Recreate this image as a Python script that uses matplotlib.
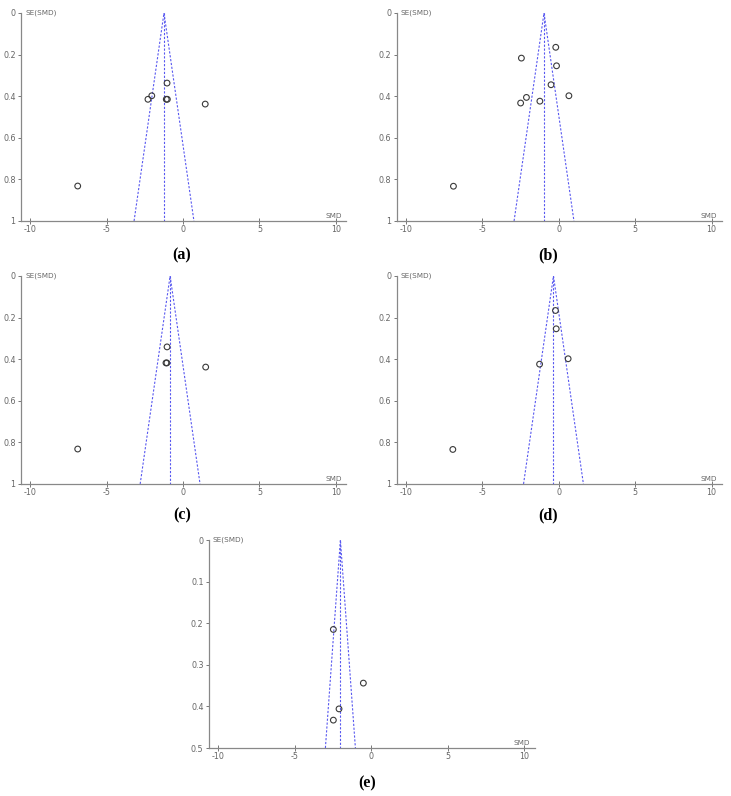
import matplotlib
matplotlib.use("Agg")
import matplotlib.pyplot as plt
import numpy as np

plt.rcParams["axes.unicode_minus"] = False

# SMD and SE(SMD) per study
a_smd = [-6.9, -2.3, -2.05, -1.05, -1.1, -1.03, 1.45]
a_se = [0.832, 0.415, 0.398, 0.337, 0.415, 0.415, 0.438]
a_pooled = -1.25

b_smd = [-6.9, -2.45, -2.12, -2.5, -1.24, -0.51, -0.2, -0.15, 0.66]
b_se = [0.833, 0.217, 0.406, 0.433, 0.424, 0.345, 0.165, 0.254, 0.398]
b_pooled = -0.97

c_smd = [-6.9, -1.05, -1.12, -1.06, 1.48]
c_se = [0.832, 0.341, 0.418, 0.418, 0.438]
c_pooled = -0.85

d_smd = [-6.94, -1.26, -0.22, -0.17, 0.61]
d_se = [0.834, 0.424, 0.166, 0.254, 0.398]
d_pooled = -0.35

e_smd = [-2.48, -0.52, -2.11, -2.48]
e_se = [0.215, 0.344, 0.406, 0.433]
e_pooled = -2.02

panel_labels = ["a", "b", "c", "d", "e"]
y_max = [1, 1, 1, 1, 0.5]

fig = plt.figure(figsize=(7.31, 7.96), dpi=100)

# left, bottom, width, height in figure fraction
boxes = [
    [0.029, 0.7224, 0.445, 0.2613],
    [0.543, 0.7224, 0.445, 0.2613],
    [0.029, 0.392, 0.445, 0.2613],
    [0.543, 0.392, 0.445, 0.2613],
    [0.286, 0.0603, 0.446, 0.2613],
]
label_pos = [(0.249, 0.679), (0.750, 0.679), (0.249, 0.353), (0.750, 0.353), (0.502, 0.016)]

data = [(a_smd, a_se, a_pooled), (b_smd, b_se, b_pooled), (c_smd, c_se, c_pooled),
        (d_smd, d_se, d_pooled), (e_smd, e_se, e_pooled)]

grey = "#666666"
blue = "#5858f0"

for i, (smd, se, pooled) in enumerate(data):
    ax = fig.add_axes(boxes[i])
    ym = y_max[i]
    # funnel
    ax.plot([pooled - 1.96 * ym, pooled, pooled + 1.96 * ym], [ym, 0, ym],
            color=blue, lw=0.8, ls=(0, (2, 1.5)))
    ax.plot([pooled, pooled], [0, ym], color=blue, lw=0.8, ls=(0, (2, 1.5)))
    ax.scatter(smd, se, s=17, facecolors="none", edgecolors="#3a3a3a", linewidths=0.8, zorder=3)

    ax.set_xlim(-10.6, 10.7)
    ax.set_ylim(ym, 0)
    ax.set_xticks([-10, -5, 0, 5, 10])
    if ym == 1:
        ax.set_yticks([0, 0.2, 0.4, 0.6, 0.8, 1])
        ax.set_yticklabels(["0", "0.2", "0.4", "0.6", "0.8", "1"])
    else:
        ax.set_yticks([0, 0.1, 0.2, 0.3, 0.4, 0.5])
        ax.set_yticklabels(["0", "0.1", "0.2", "0.3", "0.4", "0.5"])
    for s in ["top", "right"]:
        ax.spines[s].set_visible(False)
    for s in ["left", "bottom"]:
        ax.spines[s].set_color("#888888")
        ax.spines[s].set_linewidth(0.9)
    ax.tick_params(axis="x", direction="inout", length=5, width=0.7, color="#777777",
                   labelsize=5.8, labelcolor=grey, pad=0.5)
    ax.tick_params(axis="y", direction="out", length=2.5, width=0.7, color="#777777",
                   labelsize=5.8, labelcolor=grey, pad=1.5)
    ax.text(0.012, 1.0, "SE(SMD)", transform=ax.transAxes, fontsize=5.2, color=grey,
            ha="left", va="center")
    ax.text(0.985, 0.008, "SMD", transform=ax.transAxes, fontsize=5.2, color=grey,
            ha="right", va="bottom")

    fig.text(label_pos[i][0], label_pos[i][1], "(" + panel_labels[i] + ")",
             family="Liberation Serif", fontsize=11.5, fontweight="bold", ha="center", va="center")

fig.savefig("out.png", dpi=100)
